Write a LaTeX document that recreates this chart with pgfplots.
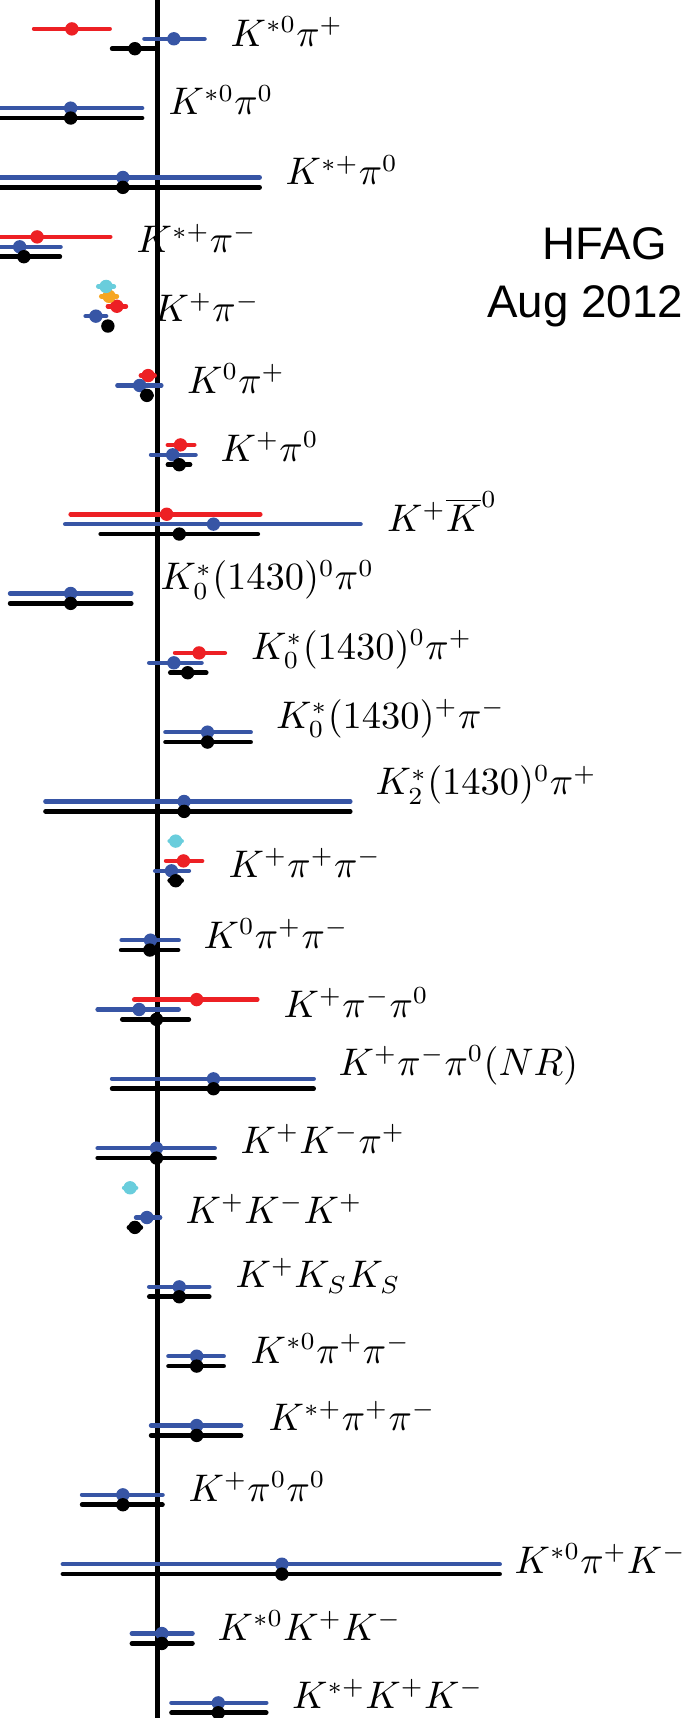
\documentclass[border=0pt]{standalone}
\usepackage{fontspec}
\usepackage{pgfplots}
\pgfplotsset{compat=1.18}
\newfontfamily\hfagfont{Liberation Sans}
\definecolor{hred}{RGB}{237,32,36}
\definecolor{hblue}{RGB}{55,85,165}
\definecolor{hcyan}{RGB}{105,205,220}
\definecolor{horange}{RGB}{246,166,35}
\pgfplotsset{
  meas/.style={only marks, mark=*, mark size=1.7pt, color=#1,
    error bars/.cd, x dir=both, x explicit, error mark=none,
    error bar style={line width=1.3pt, line cap=round, color=#1}}
}
\begin{document}
\begin{tikzpicture}
\begin{axis}[scale only axis, width=68.7mm, height=171.8mm, hide axis,
  xmin=-0.2628, xmax=0.8822, ymin=-4.917, ymax=168.53, y dir=reverse, clip=true]
\addplot[black, line width=1.4pt] coordinates {(0,-10) (0,175)};
% red
\addplot[meas=hred] table[x=x, y=y, x error minus=em, x error plus=ep] {
x y em ep
-0.143 -2 0.063 0.063
-0.201 19 0.122 0.122
-0.068 26 0.015 0.015
-0.016 33 0.012 0.011
0.038 40 0.021 0.023
0.015 47 0.160 0.156
0.069 61 0.040 0.043
0.043 82 0.029 0.031
0.065 96 0.104 0.101
};
% orange
\addplot[meas=horange] table[x=x, y=y, x error minus=em, x error plus=ep] {
x y em ep
-0.081 25 0.013 0.013
};
% cyan
\addplot[meas=hcyan] table[x=x, y=y, x error minus=em, x error plus=ep] {
x y em ep
-0.086 24 0.013 0.013
0.030 80 0.010 0.010
-0.046 115 0.010 0.010
};
% blue
\addplot[meas=hblue] table[x=x, y=y, x error minus=em, x error plus=ep] {
x y em ep
0.027 -1 0.049 0.051
-0.145 6 0.119 0.119
-0.058 13 0.228 0.228
-0.230 20 0.068 0.068
-0.103 27 0.017 0.017
-0.030 34 0.037 0.036
0.025 41 0.036 0.038
0.093 48 0.247 0.245
-0.145 55 0.101 0.101
0.027 62 0.041 0.046
0.083 69 0.070 0.072
0.044 76 0.231 0.277
0.023 83 0.027 0.029
-0.012 90 0.048 0.047
-0.031 97 0.069 0.066
0.093 104 0.169 0.167
-0.002 111 0.098 0.097
-0.018 118 0.018 0.022
0.036 125 0.050 0.050
0.065 132 0.047 0.045
0.065 139 0.076 0.074
-0.058 146 0.068 0.066
0.207 153 0.365 0.363
0.007 160 0.050 0.051
0.101 167 0.078 0.080
};
% black (average)
\addplot[meas=black] table[x=x, y=y, x error minus=em, x error plus=ep] {
x y em ep
-0.038 0 0.038 0.036
-0.145 7 0.119 0.119
-0.058 14 0.228 0.228
-0.223 21 0.060 0.060
-0.083 28 0.005 0.005
-0.018 35 0.008 0.008
0.036 42 0.019 0.018
0.036 49 0.131 0.131
-0.145 56 0.101 0.101
0.050 63 0.029 0.031
0.083 70 0.070 0.072
0.044 77 0.231 0.277
0.030 84 0.010 0.010
-0.013 91 0.048 0.047
-0.002 98 0.057 0.054
0.093 105 0.169 0.167
-0.002 112 0.098 0.097
-0.038 119 0.010 0.010
0.036 126 0.050 0.050
0.065 133 0.047 0.045
0.065 140 0.076 0.074
-0.058 147 0.068 0.066
0.207 154 0.365 0.363
0.007 161 0.050 0.051
0.101 168 0.078 0.080
};
\end{axis}
\begin{scope}[shift={(current axis.north west)}, x=0.1mm, y=-0.1mm,
  every node/.style={anchor=base west, inner sep=0pt, font=\fontsize{10.6}{13}\selectfont}]
\node at (230,46.7) {$K^{*0}\pi^+$};
\node at (168,115) {$K^{*0}\pi^0$};
\node at (285,185) {$K^{*+}\pi^0$};
\node at (136,253) {$K^{*+}\pi^-$};
\node at (153,322) {$K^+\pi^-$};
\node at (186.5,393.3) {$K^0\pi^+$};
\node at (220,461.7) {$K^+\pi^0$};
\node at (386.5,531.7) {$K^+\overline{K}^0$};
\node at (160,590) {$K_0^*(1430)^0\pi^0$};
\node at (250.5,659.3) {$K_0^*(1430)^0\pi^+$};
\node at (275.5,728.3) {$K_0^*(1430)^+\pi^-$};
\node at (375,795) {$K_2^*(1430)^0\pi^+$};
\node at (228,877.3) {$K^+\pi^+\pi^-$};
\node at (203,948.3) {$K^0\pi^+\pi^-$};
\node at (283,1017.3) {$K^+\pi^-\pi^0$};
\node at (338,1075) {$K^+\pi^-\pi^0(NR)$};
\node at (240,1153.3) {$K^+K^-\pi^+$};
\node at (185,1223.3) {$K^+K^-K^+$};
\node at (235,1287.3) {$K^+K_SK_S$};
\node at (250,1363.3) {$K^{*0}\pi^+\pi^-$};
\node at (268,1430.7) {$K^{*+}\pi^+\pi^-$};
\node at (188,1501.7) {$K^+\pi^0\pi^0$};
\node at (514,1573) {$K^{*0}\pi^+K^-$};
\node at (217,1640.7) {$K^{*0}K^+K^-$};
\node at (291.5,1708.3) {$K^{*+}K^+K^-$};
\node[font=\hfagfont\fontsize{13}{15}\selectfont] at (541.7,260) {HFAG};
\node[font=\hfagfont\fontsize{13}{15}\selectfont] at (486.7,318) {Aug 2012};
\end{scope}
\pgfresetboundingbox
\path[use as bounding box] (current axis.south west) rectangle (current axis.north east);
\end{tikzpicture}
\end{document}
